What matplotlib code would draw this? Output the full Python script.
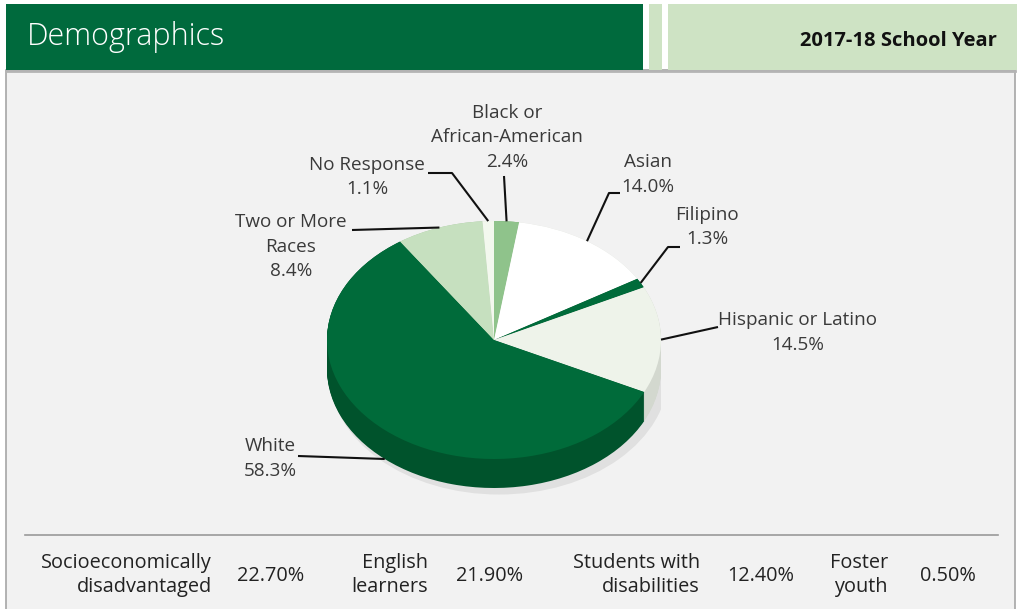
import numpy as np
import matplotlib.pyplot as plt
from matplotlib.patches import Rectangle, Ellipse

# data
groups = ['Black or\nAfrican-American', 'Asian', 'Filipino', 'Hispanic or Latino',
          'White', 'Two or More\nRaces', 'No Response']
shares = [2.4, 14.0, 1.3, 14.5, 58.3, 8.4, 1.1]
stat_names = ['Socioeconomically\ndisadvantaged', 'English\nlearners',
              'Students with\ndisabilities', 'Foster\nyouth']
stat_values = ['22.70%', '21.90%', '12.40%', '0.50%']
title = 'Demographics'
year = '2017-18 School Year'

# colours
top_cols = ['#8fc38b', '#ffffff', '#006b3a', '#eef3ea', '#006b3a', '#c6e0bf', '#f3f8ee']
side_cols = ['#6fa66c', '#d9ddd5', '#00522c', '#d3d8cf', '#00532c', '#a6c49f', '#d5dacf']
dark_green = '#006a3d'
light_green = '#cee3c4'
txt = '#3a3a3a'

plt.rcParams['font.family'] = ['Open Sans', 'DejaVu Sans']

fig = plt.figure(figsize=(10.17, 6.09), dpi=100)
bg = fig.add_axes([0, 0, 1, 1])
bg.set_xlim(0, 1017)
bg.set_ylim(609, 0)
bg.axis('off')

# panel + header
bg.add_patch(Rectangle((6, 70), 1009, 545, facecolor='#f2f2f2', edgecolor='#a6a6a6', lw=1.2))
bg.add_patch(Rectangle((6, 4), 637, 66, facecolor=dark_green, lw=0))
bg.add_patch(Rectangle((649, 4), 13, 66, facecolor=light_green, lw=0))
bg.add_patch(Rectangle((668, 4), 349, 66, facecolor=light_green, lw=0))
bg.plot([6, 1015], [71, 71], color='#b4b4b4', lw=2)
bg.text(27, 37, title, color='white', fontsize=22, fontweight='light',
        va='center', ha='left')
bg.text(997, 41, year, color='#111111', fontsize=14.5, fontweight='bold',
        va='center', ha='right')

# 3D-ish pie
px0, px1, ytop, ybot = 327, 661, 200, 510
pax = fig.add_axes([px0 / 1017, 1 - ybot / 609, (px1 - px0) / 1017, (ybot - ytop) / 609])
bg.set_zorder(1)
pax.set_zorder(2)
pax.patch.set_visible(False)
unit = (px1 - px0) / 2          # px per x unit
yunit = 119.0                    # px per y unit
cy = 340
depth = 29 / yunit

# faint shadow
pax.add_patch(Ellipse((0.03, -depth - 0.04), 2.03, 2.03,
                      facecolor='#000000', alpha=0.07, lw=0, zorder=0))

for d in np.linspace(depth, 0, 30):
    pax.pie(shares, colors=side_cols, startangle=90, counterclock=False,
            center=(0, -d), radius=1, wedgeprops=dict(linewidth=0))
pax.pie(shares, colors=top_cols, startangle=90, counterclock=False,
        center=(0, 0), radius=1, wedgeprops=dict(linewidth=0))
pax.set_aspect('auto')
pax.set_xlim(-1, 1)
pax.set_ylim(-(ybot - cy) / yunit, (cy - ytop) / yunit)
pax.axis('off')

# leader anchors from wedge mid angles
bounds = 90 - 3.6 * np.concatenate([[0], np.cumsum(shares)])
mids = np.radians((bounds[:-1] + bounds[1:]) / 2)


def anchor(i, side=False):
    a = mids[i]
    x = (px0 + px1) / 2 + unit * np.cos(a)
    y = cy - yunit * np.sin(a) + (29 if side else 0)
    return x, y


# label layout: text centre x, first line y, elbow point, optional horizontal run end
layout = {
    0: dict(x=507, y=113, elbow=(504, 176)),
    1: dict(x=648, y=162, elbow=(620, 193), h=609),
    2: dict(x=707, y=215, elbow=(680, 247), h=668),
    3: dict(x=798, y=320, elbow=(718, 327)),
    4: dict(x=270, y=446, elbow=(298, 456), side=True),
    5: dict(x=291, y=222, elbow=(352, 230)),
    6: dict(x=367, y=165, elbow=(428, 173), h=452),
}

ov = fig.add_axes([0, 0, 1, 1])
ov.set_xlim(0, 1017)
ov.set_ylim(609, 0)
ov.axis('off')
ov.set_zorder(3)

for i, name in enumerate(groups):
    L = layout[i]
    lines = (name + '\n' + f'{shares[i]:.1f}%').split('\n')
    for j, ln in enumerate(lines):
        ov.text(L['x'], L['y'] + 24.5 * j, ln, ha='center', va='center',
                color=txt, fontsize=13.6)
    ax_, ay_ = anchor(i, L.get('side', False))
    ex, ey = L['elbow']
    if 'h' in L:
        xs, ys = [ex, L['h'], ax_], [ey, ey, ay_]
    else:
        xs, ys = [ex, ax_], [ey, ay_]
    ov.plot(xs, ys, color='#111111', lw=1.5, solid_capstyle='butt')

# bottom stats
bg.plot([25, 998], [535, 535], color='#9a9a9a', lw=1.2)
name_x = [212, 428, 700, 888]
val_x = [271, 490, 761, 948]
for nx, vx, nm, vl in zip(name_x, val_x, stat_names, stat_values):
    bg.text(nx, 575, nm, ha='right', va='center', color='#222222',
            fontsize=14.3, linespacing=1.32, multialignment='right')
    bg.text(vx, 576, vl, ha='center', va='center', color='#222222', fontsize=14.3)

fig.savefig('out.png', dpi=100)
